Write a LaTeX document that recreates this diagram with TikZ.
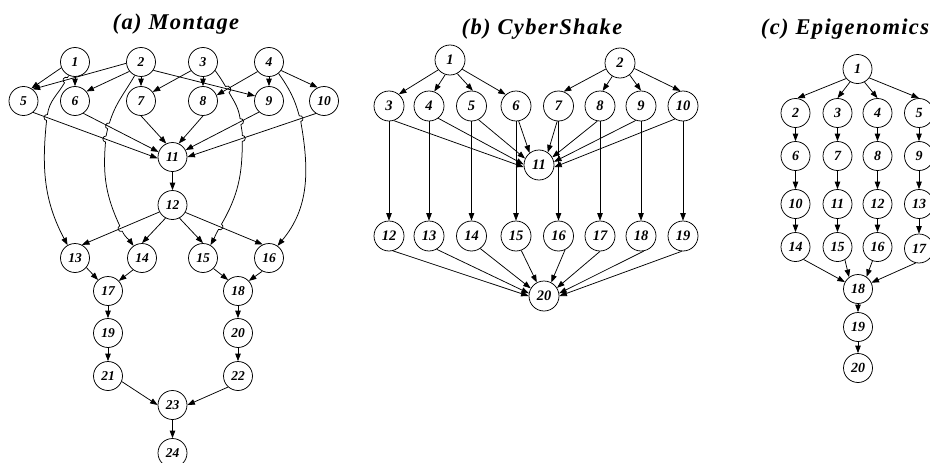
\documentclass[tikz,border=0pt]{standalone}
\usepackage{fontspec}
\setmainfont{Liberation Serif}
\newfontfamily\titlefont[LetterSpace=6]{Liberation Serif}
\usetikzlibrary{arrows.meta,calc}
\tikzset{
  vx/.style={circle, draw, line width=0.75pt, minimum size=29pt, inner sep=0pt},
  vxa/.style={vx, font=\bfseries\itshape\fontsize{13.5}{13.5}\selectfont},
  vxb/.style={vx, minimum size=30pt, font=\bfseries\itshape\fontsize{14.5}{14.5}\selectfont},
  vxc/.style={vx, font=\bfseries\itshape\fontsize{14}{14}\selectfont},
  ed/.style={line width=0.75pt, -{Triangle[length=7.5pt,width=5.5pt]}},
  ttl/.style={anchor=base, inner sep=0pt, font=\titlefont\bfseries\itshape\fontsize{22.5}{22.5}\selectfont},
}
\begin{document}
\begin{tikzpicture}[x=1pt,y=1pt]
\useasboundingbox (0,0) rectangle (930,-463);
% titles
\node[ttl] (ta) at (176,-29.5) {(a) Montage};
\node[ttl] (tb) at (542,-34.5) {(b) CyberShake};
\node[ttl] (tc) at (845,-34.5) {(c) Epigenomics};

% ---------------- (a) Montage
\node[vxa] (a1) at (75,-62) {1};
\node[vxa] (a2) at (141,-62) {2};
\node[vxa] (a3) at (203,-62) {3};
\node[vxa] (a4) at (269,-62) {4};
\node[vxa] (a5) at (23.5,-101) {5};
\node[vxa] (a6) at (75,-101) {6};
\node[vxa] (a7) at (141,-101) {7};
\node[vxa] (a8) at (203,-101) {8};
\node[vxa] (a9) at (269,-101) {9};
\node[vxa] (a10) at (324,-101) {10};
\node[vxa] (a11) at (172.5,-157) {11};
\node[vxa] (a12) at (172.5,-205) {12};
\node[vxa] (a13) at (75,-258) {13};
\node[vxa] (a14) at (142,-258) {14};
\node[vxa] (a15) at (203,-258) {15};
\node[vxa] (a16) at (269,-258) {16};
\node[vxa] (a17) at (108,-291) {17};
\node[vxa] (a18) at (238,-291) {18};
\node[vxa] (a19) at (108,-333) {19};
\node[vxa] (a20) at (238,-333) {20};
\node[vxa] (a21) at (108,-376) {21};
\node[vxa] (a22) at (238,-376) {22};
\node[vxa] (a23) at (172.5,-405) {23};
\node[vxa] (a24) at (172.5,-453) {24};

\draw[ed] (a1.203) -- (a5.58);
\draw[ed] (a2.185) -- (a5.52);
\draw[ed] (a1.south) -- (a6.north);
\draw[ed] (a2.219) -- (a6.40);
\draw[ed] (a2.south) -- (a7.north);
\draw[ed] (a2.-34) -- (a9.160);
\draw[ed] (a3.216) -- (a7.38);
\draw[ed] (a3.south) -- (a8.north);
\draw[ed] (a4.220) -- (a8.23);
\draw[ed] (a4.south) -- (a9.north);
\draw[ed] (a4.-35) -- (a10.115);
\draw[ed] (a5.-50) -- (a11.185);
\draw[ed] (a6.-56) -- (a11.160);
\draw[ed] (a7.south) -- (a11.115);
\draw[ed] (a8.south) -- (a11.65);
\draw[ed] (a9.-132) -- (a11.28);
\draw[ed] (a10.-123) -- (a11.0);
\draw[ed] (a11) -- (a12);
\draw[ed] (a12.208) -- (a13.62);
\draw[ed] (a12.242) -- (a14.north);
\draw[ed] (a12.-62) -- (a15.north);
\draw[ed] (a12.-30) -- (a16.115);
\draw[ed] (a13.-40) -- (a17.132);
\draw[ed] (a14.233) -- (a17.43);
\draw[ed] (a15.-45) -- (a18.132);
\draw[ed] (a16.243) -- (a18.43);
\draw[ed] (a17) -- (a19);
\draw[ed] (a19) -- (a21);
\draw[ed] (a18) -- (a20);
\draw[ed] (a20) -- (a22);
\draw[ed] (a21.-22) -- (a23.180);
\draw[ed] (a22.228) -- (a23.0);
\draw[ed] (a23) -- (a24);

% long curved connectors with line jumps
\coordinate (ca1) at (66,-80.2);
\coordinate (ca2) at (47,-117.5);
\draw[ed] (a1.245) to[out=-120,in=60] ($(ca1)+(60:3)$)
  arc[start angle=60, delta angle=180, radius=3]
  to[out=-120,in=82] ($(ca2)+(82:3)$)
  arc[start angle=82, delta angle=180, radius=3]
  to[out=-96,in=118] (a13.120);

\coordinate (cb1) at (108.5,-126);
\coordinate (cb2) at (105.8,-139);
\coordinate (cb3) at (121,-228.5);
\draw[ed] (a2.245) to[out=-120,in=73] ($(cb1)+(73:3)$)
  arc[start angle=73, delta angle=180, radius=3]
  to[out=-107,in=85] ($(cb2)+(85:3)$)
  arc[start angle=85, delta angle=180, radius=3]
  to[out=-95,in=115] ($(cb3)+(115:3)$)
  arc[start angle=115, delta angle=180, radius=3]
  to[out=-65,in=125] (a14.125);

\coordinate (cc1) at (227.3,-89.5);
\coordinate (cc2) at (240.5,-121.6);
\coordinate (cc3) at (242.3,-138.4);
\coordinate (cc4) at (220,-226.8);
\draw[ed] (a3.-35) to[out=-55,in=120] ($(cc1)+(120:3.5)$)
  arc[start angle=120, delta angle=-180, radius=3.5]
  to[out=-60,in=98] ($(cc2)+(98:3)$)
  arc[start angle=98, delta angle=-180, radius=3]
  to[out=-82,in=90] ($(cc3)+(90:3)$)
  arc[start angle=90, delta angle=-180, radius=3]
  to[out=-90,in=60] ($(cc4)+(60:3)$)
  arc[start angle=60, delta angle=-180, radius=3]
  to[out=-120,in=60] (a15.60);

\coordinate (dd1) at (300,-118.7);
\draw[ed] (a4.-50) to[out=-55,in=105] ($(dd1)+(105:3)$)
  arc[start angle=105, delta angle=-180, radius=3]
  to[out=-80,in=50] (a16.55);

% ---------------- (b) CyberShake
\node[vxb] (b1) at (450,-60) {1};
\node[vxb] (b2) at (620,-63) {2};
\foreach \n/\x in {3/389,4/429,5/471.5,6/516,7/558.5,8/600,9/641,10/683}
  \node[vxb] (b\n) at (\x,-106) {\n};
\node[vxb] (b11) at (539,-165) {11};
\foreach \n/\x in {12/389,13/429,14/471.5,15/516,16/558.5,17/600,18/641,19/683}
  \node[vxb] (b\n) at (\x,-236) {\n};
\node[vxb] (b20) at (544,-296) {20};

\draw[ed] (b1.220) -- (b3.50);
\draw[ed] (b1.252) -- (b4.70);
\draw[ed] (b1.-62) -- (b5.85);
\draw[ed] (b1.-37) -- (b6.132);
\draw[ed] (b2.203) -- (b7.70);
\draw[ed] (b2.240) -- (b8.80);
\draw[ed] (b2.-51) -- (b9.90);
\draw[ed] (b2.-21) -- (b10.100);
\draw[ed] (b3.-72) -- (b11.188);
\draw[ed] (b4.-53) -- (b11.178);
\draw[ed] (b5.-63) -- (b11.155);
\draw[ed] (b6.-80) -- (b11.128);
\draw[ed] (b7.-95) -- (b11.55);
\draw[ed] (b8.-100) -- (b11.30);
\draw[ed] (b9.-110) -- (b11.12);
\draw[ed] (b10.-122) -- (b11.-8);
\foreach \s/\t in {3/12,4/13,5/14,6/15,7/16,8/17,9/18,10/19}
  \draw[ed] (b\s) -- (b\t);
\draw[ed] (b12.-75) -- (b20.180);
\draw[ed] (b13.-60) -- (b20.170);
\draw[ed] (b14.-55) -- (b20.150);
\draw[ed] (b15.-70) -- (b20.118);
\draw[ed] (b16.-65) -- (b20.62);
\draw[ed] (b17.-90) -- (b20.32);
\draw[ed] (b18.-80) -- (b20.10);
\draw[ed] (b19.-95) -- (b20.0);

% ---------------- (c) Epigenomics
\node[vxc] (c1) at (857.5,-69) {1};
\foreach \n/\x in {2/795.5,3/837.5,4/877.5,5/919}
  \node[vxc] (c\n) at (\x,-113) {\n};
\foreach \n/\x in {6/795.5,7/837.5,8/877.5,9/919}
  \node[vxc] (c\n) at (\x,-156) {\n};
\foreach \n/\x in {10/795.5,11/837.5,12/877.5,13/919}
  \node[vxc] (c\n) at (\x,-204) {\n};
\foreach \n/\x in {14/795.5,15/837.5,16/877.5}
  \node[vxc] (c\n) at (\x,-247) {\n};
\node[vxc] (c17) at (919,-248.5) {17};
\node[vxc] (c18) at (858,-289) {18};
\node[vxc] (c19) at (858,-327) {19};
\node[vxc] (c20) at (858,-368) {20};

\draw[ed] (c1.220) -- (c2.83);
\draw[ed] (c1.240) -- (c3.north);
\draw[ed] (c1.-62) -- (c4.north);
\draw[ed] (c1.-37) -- (c5.north);
\foreach \s/\t in {2/6,6/10,10/14,3/7,7/11,11/15,4/8,8/12,12/16,5/9,9/13,13/17}
  \draw[ed] (c\s) -- (c\t);
\draw[ed] (c14.-57) -- (c18.152);
\draw[ed] (c15.-60) -- (c18.127);
\draw[ed] (c16.250) -- (c18.55);
\draw[ed] (c17.257) -- (c18.25);
\draw[ed] (c18) -- (c19);
\draw[ed] (c19) -- (c20);
\end{tikzpicture}
\end{document}
